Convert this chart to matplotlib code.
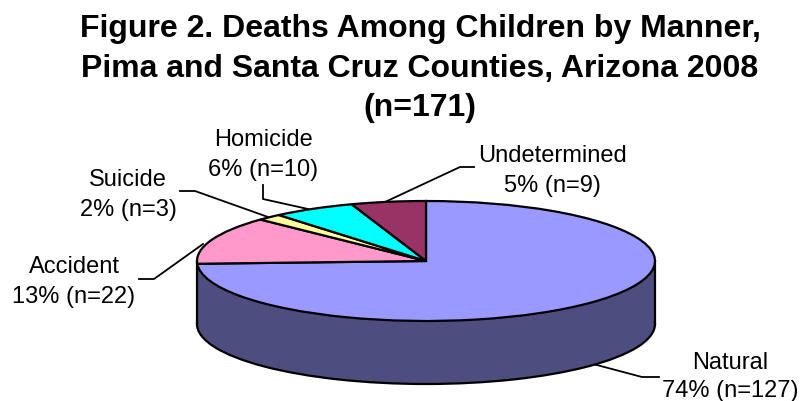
import matplotlib
matplotlib.use("Agg")
import matplotlib.pyplot as plt
from matplotlib.patches import Rectangle

plt.rcParams['font.family'] = ['Liberation Sans', 'DejaVu Sans']

W, H = 802, 402
title = "Figure 2. Deaths Among Children by Manner,\nPima and Santa Cruz Counties, Arizona 2008\n(n=171)"
categories = ["Natural", "Accident", "Suicide", "Homicide", "Undetermined"]
counts = [127, 22, 3, 10, 9]
percents = [74, 13, 2, 6, 5]
colors = ["#9999FF", "#FF99CC", "#FFFF99", "#00FFFF", "#993366"]
side_color = "#4D4D80"

label_pos = {"Natural": (730, 377), "Accident": (74, 282), "Suicide": (128, 195),
             "Homicide": (263, 155), "Undetermined": (552, 171)}
leaders = {"Natural": [(593, 365), (642, 378), (659, 378)],
           "Accident": [(139, 280), (154, 280), (203, 245)],
           "Suicide": [(180, 192), (195, 192), (268, 218)],
           "Homicide": [(263, 186), (263, 200), (308, 210)],
           "Undetermined": [(385, 203), (460, 168), (474, 168)]}

fig = plt.figure(figsize=(W / 100, H / 100), dpi=100)
fx, fy = lambda x: x / W, lambda y: 1 - y / H

# axes box is exactly the ellipse of the pie's top face
cx0, cx1, cy0, cy1 = 197, 655, 202, 322
ax = fig.add_axes([cx0 / W, 1 - cy1 / H, (cx1 - cx0) / W, (cy1 - cy0) / H])
depth = 63 / ((cy1 - cy0) / 2)
lw = 1.6
edge = dict(edgecolor="black", linewidth=lw)

side, _ = ax.pie([sum(counts)], colors=[side_color], center=(0, -depth), radius=1, wedgeprops=edge)
ax.add_patch(Rectangle((-1, -depth), 2, depth, facecolor=side_color, edgecolor="none", zorder=2))
ax.plot([-1, -1], [-depth, 0], color="black", lw=lw, zorder=3)
ax.plot([1, 1], [-depth, 0], color="black", lw=lw, zorder=3)
top, _ = ax.pie(counts, colors=colors, startangle=90, counterclock=False, radius=1, wedgeprops=edge)
for w in list(side) + list(top):
    w.set_clip_on(False)
    w.set_zorder(4 if w in top else 1.5)
ax.set_aspect("auto")
ax.set_xlim(-1, 1)
ax.set_ylim(-1, 1)
for l in ax.lines:
    l.set_clip_on(False)
ax.axis("off")

fig.text(fx(420), fy(68.5), title, ha="center", va="center", fontsize=23, fontweight="bold", linespacing=1.41)
for c, n, p in zip(categories, counts, percents):
    x, y = label_pos[c]
    fig.text(fx(x), fy(y), f"{c}\n{p}% (n={n})", ha="center", va="center", fontsize=17, linespacing=1.47 if c != "Natural" else 1.4)
    pts = leaders[c]
    fig.add_artist(plt.Line2D([fx(a) for a, _ in pts], [fy(b) for _, b in pts], color="black", lw=1.3,
                              transform=fig.transFigure, zorder=0))
fig.savefig("out.png", dpi=100)
